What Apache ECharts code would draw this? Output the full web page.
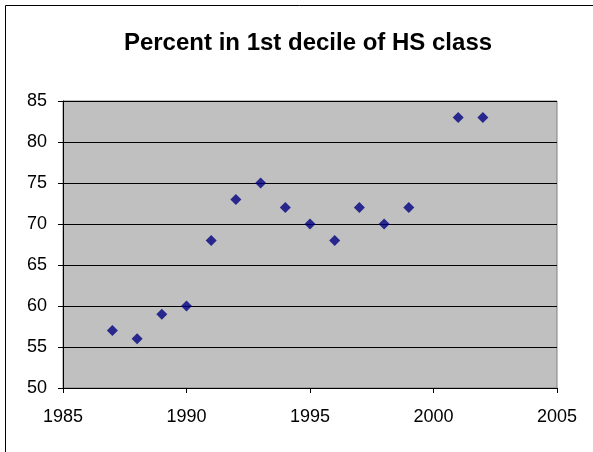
<!DOCTYPE html>
<html><head><meta charset="utf-8">
<script src="https://cdn.jsdelivr.net/npm/echarts@6/dist/echarts.min.js"></script>
<style>html,body{margin:0;padding:0;background:#fff}#c{width:593px;height:452px}</style>
</head><body><div id="c"></div>
<script>
const titleText = "Percent in 1st decile of HS class";
const years = [1987, 1988, 1989, 1990, 1991, 1992, 1993, 1994, 1995, 1996, 1997, 1998, 1999, 2001, 2002];
const percents = [57, 56, 59, 60, 68, 73, 75, 72, 70, 68, 72, 70, 72, 83, 83];
const xMin = 1985, xMax = 2005, xStep = 5;
const yMin = 50, yMax = 85, yStep = 5;

const chart = echarts.init(document.getElementById('c'), null, {renderer: 'canvas'});
const font = 'Arial, "Liberation Sans", sans-serif';
chart.setOption({
  animation: false,
  backgroundColor: '#ffffff',
  title: {
    text: titleText, left: 303, top: 26, textAlign: 'center',
    textStyle: {fontFamily: font, fontSize: 24, fontWeight: 'bold', color: '#000'}
  },
  grid: {left: 63, top: 101, right: 36, bottom: 64, show: true,
    backgroundColor: '#c0c0c0', borderColor: '#808080', borderWidth: 1},
  xAxis: {
    type: 'value', min: xMin, max: xMax, interval: xStep,
    axisLine: {show: true, onZero: false, lineStyle: {color: '#000', width: 1}},
    axisTick: {show: true, length: 5, lineStyle: {color: '#000'}},
    axisLabel: {fontFamily: font, fontSize: 18, color: '#000', margin: 20,
      formatter: v => String(v)},
    splitLine: {show: false}
  },
  yAxis: {
    type: 'value', min: yMin, max: yMax, interval: yStep,
    axisLine: {show: true, onZero: false, lineStyle: {color: '#000', width: 1}},
    axisTick: {show: true, length: 5, lineStyle: {color: '#000'}},
    axisLabel: {fontFamily: font, fontSize: 18, color: '#000', margin: 16},
    splitLine: {show: true, lineStyle: {color: '#000', width: 1}}
  },
  series: [{
    type: 'scatter',
    data: years.map((y, i) => [y, percents[i]]),
    symbol: 'diamond', symbolSize: [11, 11],
    itemStyle: {color: '#000080'}
  }],
  graphic: [
    {type: 'line', shape: {x1: 5.5, y1: 5.5, x2: 593, y2: 5.5}, style: {stroke: '#000', lineWidth: 1}},
    {type: 'line', shape: {x1: 5.5, y1: 5.5, x2: 5.5, y2: 452}, style: {stroke: '#000', lineWidth: 1}}
  ]
});
</script></body></html>
